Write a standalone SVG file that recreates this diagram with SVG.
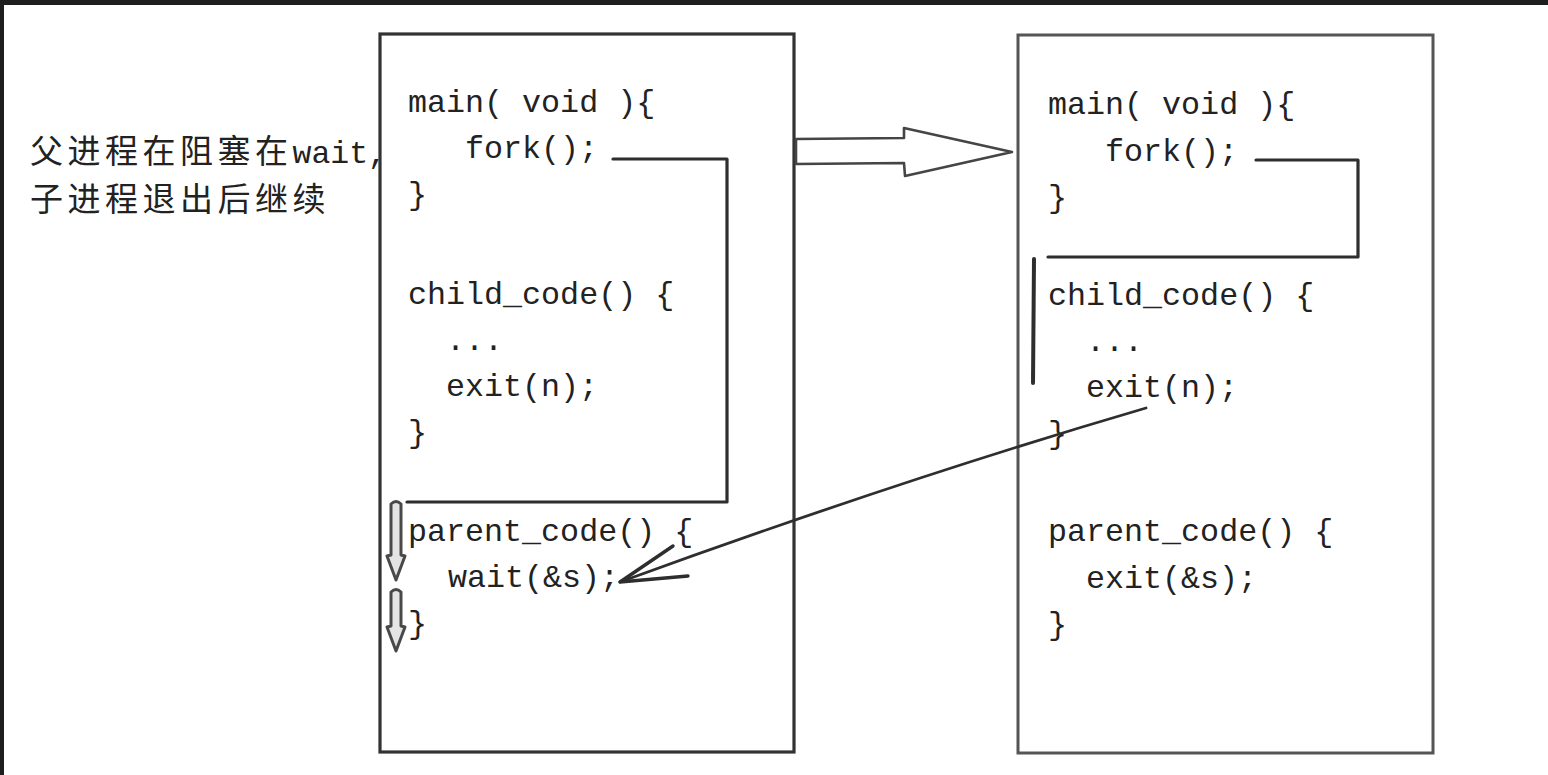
<svg xmlns="http://www.w3.org/2000/svg" width="1548" height="775" viewBox="0 0 1548 775">
<style>
.code{font-family:"Liberation Mono","DejaVu Sans Mono",monospace;font-size:31.7px;fill:#222}
.note{font-family:"Noto Sans CJK SC","Noto Sans",sans-serif;font-size:33px;letter-spacing:4.5px;fill:#222}
.box{fill:#fff;stroke:#333;stroke-width:3.2}
.box2{fill:#fff;stroke:#555;stroke-width:3}
.ln{fill:none;stroke:#2e2e2e;stroke-width:3.2;stroke-linecap:round;stroke-linejoin:round}
.hollow{fill:#fff;stroke:#444;stroke-width:2.6;stroke-linejoin:round}
.tube{fill:#e4e4e4;stroke:#4a4a4a;stroke-width:3;stroke-linejoin:round}
</style>
<defs>
<filter id="soft" x="-5%" y="-5%" width="110%" height="110%"><feGaussianBlur stdDeviation="0.6"/></filter>
</defs>
<rect x="0" y="0" width="1548" height="775" fill="#fff"/>
<rect x="0" y="0" width="1548" height="5" fill="#1e1e1e"/>
<rect x="0" y="0" width="4" height="775" fill="#1e1e1e"/>
<g id="note">
<text class="note" x="30" y="163">父进程在阻塞在<tspan style="font-family:'Liberation Mono',monospace;font-size:31.5px;letter-spacing:0">wait,</tspan></text>
<text class="note" x="30" y="211">子进程退出后继续</text>
</g>
<g id="parent-box">
<rect class="box" x="380" y="34" width="414" height="718" filter="url(#soft)"/>
<text class="code" x="408" y="112">main( void ){</text>
<text class="code" x="465" y="158">fork();</text>
<text class="code" x="408" y="204">}</text>
<text class="code" x="408" y="304">child_code() {</text>
<text class="code" x="446" y="350">...</text>
<text class="code" x="446" y="396">exit(n);</text>
<text class="code" x="408" y="442">}</text>
<text class="code" x="408" y="541">parent_code() {</text>
<text class="code" x="448" y="587">wait(&amp;s);</text>
<text class="code" x="408" y="633">}</text>
</g>
<g id="child-box">
<rect class="box2" x="1018" y="35" width="415" height="718" filter="url(#soft)"/>
<text class="code" x="1048" y="114">main( void ){</text>
<text class="code" x="1105" y="161">fork();</text>
<text class="code" x="1048" y="207">}</text>
<text class="code" x="1048" y="305">child_code() {</text>
<text class="code" x="1086" y="351">...</text>
<text class="code" x="1086" y="397">exit(n);</text>
<text class="code" x="1048" y="443">}</text>
<text class="code" x="1048" y="541">parent_code() {</text>
<text class="code" x="1086" y="588">exit(&amp;s);</text>
<text class="code" x="1048" y="634">}</text>
</g>
<g id="connectors" filter="url(#soft)">
<path class="ln" d="M613,159 L727,159 L727,502 L407,502"/>
<path class="tube" d="M391,504 Q396,499 401,504 L401,555 L405,556 L396,580 L387,556 L391,555 Z"/>
<path class="tube" d="M391,592 Q396,587 401,592 L401,626 L405,627 L396,651 L387,627 L391,626 Z"/>
<path class="hollow" d="M796,139 L904,138 L904,128 L1012,152 L905,176 L904,163 L796,164 Z"/>
<path class="ln" d="M1256,160 L1358,160 L1358,257 L1048,257"/>
<path class="ln" style="stroke-width:4" d="M1034,259 L1033,383"/>
<path class="ln" style="stroke-width:2.8" d="M1146,408 Q900,480 620,582"/>
<path class="ln" style="stroke-width:3.4" d="M673,546 L620,582 L688,576"/>
</g>
</svg>
